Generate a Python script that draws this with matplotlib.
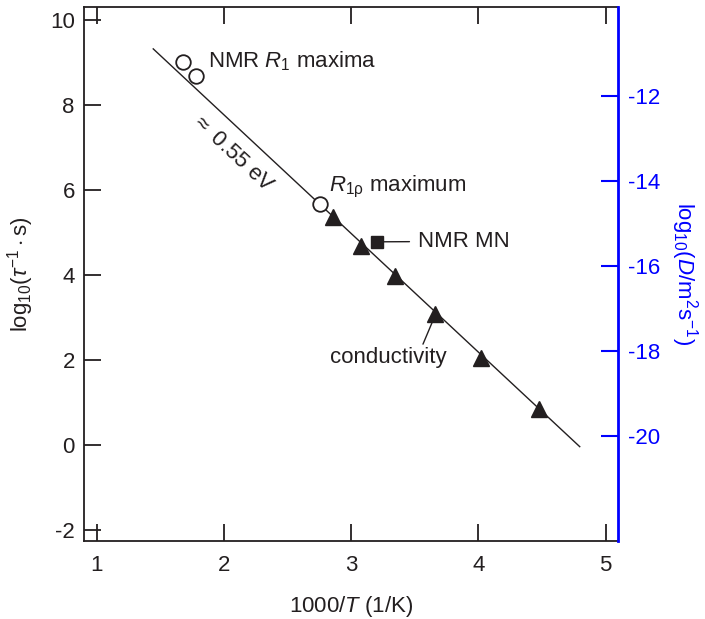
import numpy as np
import matplotlib.pyplot as plt

plt.rcParams['font.family'] = ['Liberation Sans', 'DejaVu Sans']
plt.rcParams['mathtext.fontset'] = 'custom'
plt.rcParams['mathtext.rm'] = 'Liberation Sans'
plt.rcParams['mathtext.it'] = 'Liberation Sans:italic'
plt.rcParams['mathtext.bf'] = 'Liberation Sans:bold'
plt.rcParams['axes.unicode_minus'] = False

ink = '#231f20'
fs = 16

# jump rates, log10(tau^-1 s) against 1000/T
r1_x = [1.68, 1.785]          # NMR R1 maxima
r1_y = [9.00, 8.68]
r1rho_x = [2.754]             # R1rho maximum
r1rho_y = [5.65]
mn_x = [3.20]                 # NMR motional narrowing
mn_y = [4.77]
cond_x = [2.86, 3.08, 3.343, 3.66, 4.024, 4.477]   # conductivity
cond_y = [5.36, 4.67, 3.96, 3.08, 2.04, 0.84]

# Arrhenius line, ~0.55 eV
fit_x = [1.445, 4.797]
fit_y = [9.31, -0.05]

# offset between log10(tau^-1) and log10(D)
d_offset = 20.2

fig = plt.figure(figsize=(7.05, 6.19), dpi=100)
ax = fig.add_axes([0.119, 0.126, 0.758, 0.863])

ax.plot(fit_x, fit_y, color=ink, lw=1.0, zorder=1)
ax.plot(r1_x, r1_y, 'o', ms=10.5, mfc='white', mec=ink, mew=1.3, zorder=3)
ax.plot(r1rho_x, r1rho_y, 'o', ms=10.5, mfc='white', mec=ink, mew=1.3, zorder=3)
ax.plot(cond_x, cond_y, '^', ms=11.5, color=ink, zorder=3)
ax.plot(mn_x, mn_y, 's', ms=8.5, color=ink, zorder=3)

ax.set_xlim(0.9, 5.1)
ax.set_ylim(-2.27, 10.3)
ax.set_xticks([1, 2, 3, 4, 5])
ax.set_yticks([-2, 0, 2, 4, 6, 8, 10])

for s in ['left', 'bottom', 'top']:
    ax.spines[s].set_color(ink)
    ax.spines[s].set_linewidth(1.3)
ax.spines['right'].set_visible(False)
ax.tick_params(direction='in', length=12, width=1.3, colors=ink, labelsize=fs,
               top=True, right=False, pad=6.5)
ax.tick_params(axis='x', pad=10)

ax.set_xlabel(r'1000/$T$ (1/K)', fontsize=fs, color=ink, labelpad=13)
ax.set_ylabel(r'$\mathrm{log}_{10}(\tau^{-1}\cdot\mathrm{s})$', fontsize=fs,
              color=ink, labelpad=10)

# annotations
ax.text(1.874, 9.01, r'NMR $R_1$ maxima', fontsize=fs, color=ink, va='center')
ax.text(2.07, 6.86, r'$\approx$ 0.55 eV', fontsize=fs, color=ink,
        rotation=-43, ha='center', va='center', rotation_mode='anchor')
ax.text(2.825, 6.05, r'$R_{\mathrm{1ρ}}$ maximum', fontsize=fs, color=ink, va='center')
ax.annotate('NMR MN', xy=(mn_x[0], mn_y[0]), xytext=(3.524, 4.78),
            fontsize=fs, color=ink, va='center',
            arrowprops=dict(arrowstyle='-', color=ink, lw=1.0,
                            shrinkA=4, shrinkB=5))
ax.annotate('conductivity', xy=(cond_x[3] - 0.015, cond_y[3] - 0.15),
            xytext=(3.29, 2.05), fontsize=fs, color=ink, ha='center', va='center',
            arrowprops=dict(arrowstyle='-', color=ink, lw=1.0,
                            relpos=(0.79, 1.0), shrinkA=0, shrinkB=0))

# diffusion coefficient axis
ax2 = ax.twinx()
ax2.set_ylim(ax.get_ylim()[0] - d_offset, ax.get_ylim()[1] - d_offset)
ax2.set_yticks([-20, -18, -16, -14, -12])
for s in ['left', 'bottom', 'top']:
    ax2.spines[s].set_visible(False)
ax2.spines['right'].set_color('blue')
ax2.spines['right'].set_linewidth(2)
ax2.tick_params(axis='y', direction='in', length=12, width=1.5, colors='blue',
                labelsize=fs, pad=7)
ax2.set_ylabel(r'$\mathrm{log}_{10}(D/\mathrm{m^2s^{-1}})$', fontsize=fs,
               color='blue', rotation=270, va='bottom', labelpad=6)

fig.savefig('out.png', dpi=100)
